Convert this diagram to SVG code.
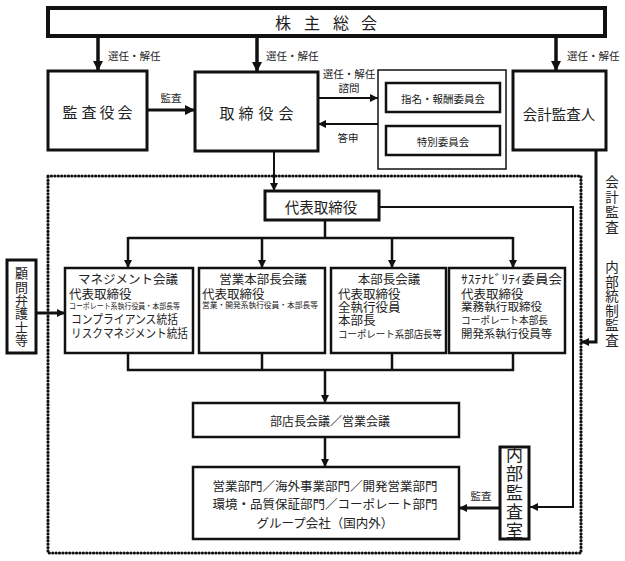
<svg xmlns="http://www.w3.org/2000/svg" width="625" height="561" viewBox="0 0 625 561">
<style>
text{font-family:"Noto Sans CJK JP","Noto Sans",sans-serif;fill:#222;dominant-baseline:central}
.box{fill:#fff;stroke:#111}
.c{text-anchor:middle}
.v{writing-mode:vertical-rl;text-anchor:middle;dominant-baseline:central}
.ln{fill:none;stroke:#111}
.lbl{font-size:10.5px}
.t12{font-size:12.5px}
</style>
<defs>
<marker id="ah" markerUnits="userSpaceOnUse" markerWidth="10" markerHeight="10" viewBox="0 0 10 10" refX="10" refY="5" orient="auto">
<path d="M0,0 L10,5 L0,10 z" fill="#111"/>
</marker>
<marker id="ahs" markerUnits="userSpaceOnUse" markerWidth="8" markerHeight="8" viewBox="0 0 10 10" refX="10" refY="5" orient="auto">
<path d="M0,0 L10,5 L0,10 z" fill="#111"/>
</marker>
</defs>
<rect x="48" y="176" width="533" height="377" fill="none" stroke="#111" stroke-width="3.2" stroke-dasharray="0.1 3.3" stroke-linecap="round"/>
<g id="connectors">
<line class="ln" x1="98" y1="38" x2="98" y2="71" stroke-width="3.5" marker-end="url(#ah)"/>
<line class="ln" x1="257" y1="38" x2="257" y2="72" stroke-width="3.5" marker-end="url(#ah)"/>
<line class="ln" x1="556" y1="38" x2="556" y2="71" stroke-width="3.5" marker-end="url(#ah)"/>
<text class="lbl" x="108" y="55">選任・解任</text>
<text class="lbl" x="266" y="55">選任・解任</text>
<text class="lbl" x="567" y="55">選任・解任</text>
<line class="ln" x1="147" y1="110" x2="195" y2="110" stroke-width="3" marker-end="url(#ah)"/>
<text class="lbl c" x="171" y="97">監査</text>
<line class="ln" x1="318" y1="98" x2="378" y2="98" stroke-width="2" marker-end="url(#ahs)"/>
<text class="lbl c"><tspan x="349" y="73">選任・解任</tspan><tspan x="349" y="87">諮問</tspan></text>
<line class="ln" x1="378" y1="124" x2="318" y2="124" stroke-width="2" marker-end="url(#ahs)"/>
<text class="lbl c" x="348" y="137">答申</text>
<line class="ln" x1="274" y1="151" x2="274" y2="191" stroke-width="2" marker-end="url(#ahs)"/>
<polyline class="ln" points="379,207 573,207 573,507 530,507" stroke-width="2" marker-end="url(#ahs)"/>
<line class="ln" x1="325" y1="220" x2="325" y2="238" stroke-width="2.5"/>
<line class="ln" x1="128" y1="238" x2="513" y2="238" stroke-width="2.5"/>
<line class="ln" x1="128" y1="237" x2="128" y2="268" stroke-width="2.5" marker-end="url(#ahs)"/>
<line class="ln" x1="262" y1="237" x2="262" y2="268" stroke-width="2.5" marker-end="url(#ahs)"/>
<line class="ln" x1="392" y1="237" x2="392" y2="268" stroke-width="2.5" marker-end="url(#ahs)"/>
<line class="ln" x1="513" y1="237" x2="513" y2="268" stroke-width="2.5" marker-end="url(#ahs)"/>
<line class="ln" x1="128" y1="353" x2="128" y2="371" stroke-width="2.5"/>
<line class="ln" x1="262" y1="353" x2="262" y2="371" stroke-width="2.5"/>
<line class="ln" x1="392" y1="353" x2="392" y2="371" stroke-width="2.5"/>
<line class="ln" x1="513" y1="353" x2="513" y2="371" stroke-width="2.5"/>
<line class="ln" x1="127" y1="370" x2="514" y2="370" stroke-width="2.5"/>
<line class="ln" x1="325" y1="370" x2="325" y2="403" stroke-width="2.5" marker-end="url(#ahs)"/>
<line class="ln" x1="325" y1="437" x2="325" y2="467" stroke-width="2.5" marker-end="url(#ahs)"/>
<line class="ln" x1="500" y1="508" x2="459" y2="508" stroke-width="3" marker-end="url(#ahs)"/>
<text class="lbl c" x="481" y="495">監査</text>
<polyline class="ln" points="596,150 596,342 581,342" stroke-width="3" marker-end="url(#ahs)"/>
<line class="ln" x1="36" y1="313" x2="65" y2="313" stroke-width="3" marker-end="url(#ahs)"/>
<text class="v" style="font-size:13.5px;letter-spacing:1.5px" x="612" y="205">会計監査</text>
<text class="v" style="font-size:13.5px;letter-spacing:1px" x="612" y="304">内部統制監査</text>
</g>
<g id="shareholders">
<rect class="box" x="48" y="8" width="557" height="28" stroke-width="4"/>
<text class="c" style="font-size:16px"><tspan x="283" y="22">株</tspan><tspan x="312" y="22">主</tspan><tspan x="341" y="22">総</tspan><tspan x="369" y="22">会</tspan></text>
</g>
<g id="kansayakukai">
<rect class="box" x="48" y="71" width="99" height="79" stroke-width="3"/>
<text class="c" style="font-size:15px"><tspan x="70" y="111">監</tspan><tspan x="89" y="111">査</tspan><tspan x="107" y="111">役</tspan><tspan x="125" y="111">会</tspan></text>
</g>
<g id="torishimariyakukai">
<rect class="box" x="195" y="72" width="123" height="79" stroke-width="3"/>
<text class="c" style="font-size:15px"><tspan x="227" y="112">取</tspan><tspan x="246" y="112">締</tspan><tspan x="266" y="112">役</tspan><tspan x="286" y="112">会</tspan></text>
</g>
<g id="committees">
<rect class="box" x="378" y="70" width="128" height="99" stroke-width="1.5"/>
<rect class="box" x="386" y="83" width="114" height="29" stroke-width="2.5"/>
<text class="c lbl" x="443" y="98">指名・報酬委員会</text>
<rect class="box" x="386" y="126" width="114" height="29" stroke-width="2.5"/>
<text class="c lbl" x="443" y="141">特別委員会</text>
</g>
<g id="kaikeikansanin">
<rect class="box" x="513" y="71" width="93" height="79" stroke-width="3"/>
<text class="c" style="font-size:14.5px" x="559" y="113">会計監査人</text>
</g>
<g id="daihyo">
<rect class="box" x="265" y="191" width="114" height="29" stroke-width="3"/>
<text class="c" style="font-size:14.5px" x="321" y="206">代表取締役</text>
</g>
<g id="komon">
<rect class="box" x="7" y="260" width="29" height="93" stroke-width="3"/>
<text class="v" style="font-size:13px;letter-spacing:0.4px" x="21.5" y="307">顧問弁護士等</text>
</g>
<g id="management">
<rect class="box" x="65" y="268" width="128" height="85" stroke-width="2.5"/>
<text class="t12"><tspan x="128" y="278" text-anchor="middle">マネジメント会議</tspan><tspan x="69" y="293">代表取締役</tspan><tspan style="font-size:8px" x="69" y="305" textLength="111" lengthAdjust="spacingAndGlyphs">コーポレート系執行役員・本部長等</tspan><tspan style="font-size:12px" x="71" y="318" textLength="107" lengthAdjust="spacingAndGlyphs">コンプライアンス統括</tspan><tspan style="font-size:12px" x="71" y="332" textLength="117" lengthAdjust="spacingAndGlyphs">リスクマネジメント統括</tspan></text>
</g>
<g id="eigyo">
<rect class="box" x="199" y="268" width="126" height="85" stroke-width="2.5"/>
<text class="t12"><tspan x="263" y="278" text-anchor="middle">営業本部長会議</tspan><tspan x="202" y="293">代表取締役</tspan><tspan style="font-size:8px" x="202" y="304" textLength="116" lengthAdjust="spacingAndGlyphs">営業・開発系執行役員・本部長等</tspan></text>
</g>
<g id="honbucho">
<rect class="box" x="331" y="268" width="115" height="85" stroke-width="2.5"/>
<text class="t12"><tspan x="389" y="278" text-anchor="middle">本部長会議</tspan><tspan x="338" y="293">代表取締役</tspan><tspan x="338" y="306">全執行役員</tspan><tspan x="338" y="319">本部長</tspan><tspan style="font-size:10px" x="338" y="333" textLength="104" lengthAdjust="spacingAndGlyphs">コーポレート系部店長等</tspan></text>
</g>
<g id="sustainability">
<rect class="box" x="449" y="268" width="116" height="85" stroke-width="2.5"/>
<text class="t12"><tspan x="461" y="278" textLength="101" lengthAdjust="spacingAndGlyphs">ｻｽﾃﾅﾋﾞﾘﾃｨ委員会</tspan><tspan x="461" y="293">代表取締役</tspan><tspan style="font-size:11.6px" x="461" y="306">業務執行取締役</tspan><tspan style="font-size:10px" x="461" y="319" textLength="87" lengthAdjust="spacingAndGlyphs">コーポレート本部長</tspan><tspan style="font-size:11.4px" x="461" y="333">開発系執行役員等</tspan></text>
</g>
<g id="buten">
<rect class="box" x="193" y="403" width="266" height="34" stroke-width="2.5"/>
<text class="c" style="font-size:12px" x="330" y="420">部店長会議／営業会議</text>
</g>
<g id="departments">
<rect class="box" x="193" y="467" width="266" height="72" stroke-width="2.5"/>
<text class="c" style="font-size:12.5px"><tspan x="325" y="485">営業部門／海外事業部門／開発営業部門</tspan><tspan x="325" y="503">環境・品質保証部門／コーポレート部門</tspan><tspan x="325" y="522">グループ会社（国内外）</tspan></text>
</g>
<g id="naibukansa">
<rect class="box" x="500" y="447" width="29" height="92" stroke-width="3"/>
<text class="v" style="font-size:17px;letter-spacing:2px" x="514.5" y="494">内部監査室</text>
</g>
</svg>
